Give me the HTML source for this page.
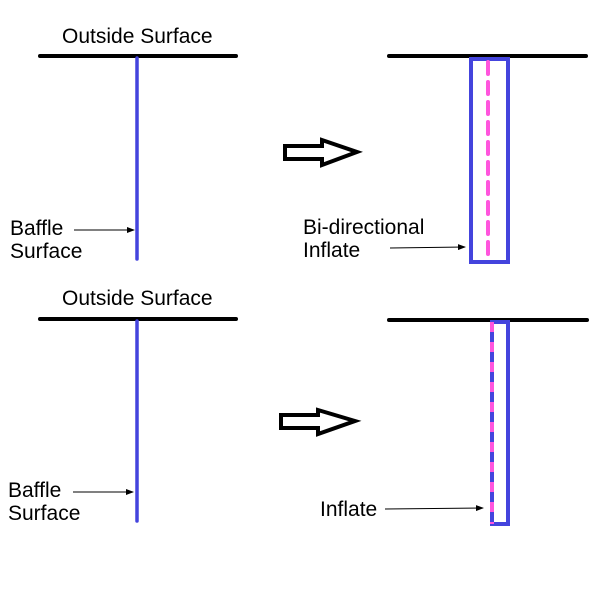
<!DOCTYPE html>
<html><head><meta charset="utf-8"><style>html,body{margin:0;padding:0;background:#fff}</style></head>
<body>
<svg width="610" height="601" viewBox="0 0 610 601" xmlns="http://www.w3.org/2000/svg" style="display:block">
<defs>
<marker id="ah" markerWidth="8" markerHeight="6" refX="7" refY="3" orient="auto" markerUnits="userSpaceOnUse">
<path d="M0,0 L8,3 L0,6 Z" fill="#000"/></marker>
</defs>
<g font-family="Liberation Sans, sans-serif" font-size="21" fill="#000">
<text x="62" y="43">Outside Surface</text>
<text x="10" y="235">Baffle</text>
<text x="10" y="258">Surface</text>
<text x="62" y="305">Outside Surface</text>
<text x="8" y="497">Baffle</text>
<text x="8" y="520">Surface</text>
<text x="303" y="234">Bi-directional</text>
<text x="303" y="257">Inflate</text>
<text x="320" y="516">Inflate</text>
</g>
<g stroke="#000" stroke-width="4" stroke-linecap="round">
<line x1="40" y1="56" x2="236" y2="56"/>
<line x1="389" y1="56" x2="586" y2="56"/>
<line x1="40" y1="319" x2="236" y2="319"/>
<line x1="389" y1="320" x2="587" y2="320"/>
</g>
<g stroke="#4444dd" stroke-width="3.5" stroke-linecap="round">
<line x1="137" y1="58" x2="137" y2="259"/>
<line x1="137" y1="321" x2="137" y2="521"/>
</g>
<rect x="471" y="59" width="37" height="203" fill="none" stroke="#4444dd" stroke-width="4"/>
<line x1="488" y1="62" x2="488" y2="262" stroke="#ff55dd" stroke-width="4" stroke-dasharray="12,8" stroke-linecap="round"/>
<rect x="492" y="322" width="16" height="202" fill="none" stroke="#4444dd" stroke-width="4"/>
<line x1="492" y1="322" x2="492" y2="524" stroke="#ff55dd" stroke-width="4" stroke-dasharray="10,10"/>
<g stroke="#000" stroke-width="1" marker-end="url(#ah)">
<line x1="74" y1="230" x2="134" y2="230"/>
<line x1="73" y1="492" x2="133" y2="492"/>
<line x1="390" y1="248" x2="465" y2="247"/>
<line x1="385" y1="509" x2="483" y2="508"/>
</g>
<g fill="#fff" stroke="#000" stroke-width="4" stroke-linejoin="miter">
<path d="M285,146 L322,146 L322,140 L357,152 L322,165 L322,159 L285,159 Z"/>
<path d="M281,415 L318,415 L318,410 L355,421 L318,434 L318,428 L281,428 Z"/>
</g>
</svg>
</body></html>
